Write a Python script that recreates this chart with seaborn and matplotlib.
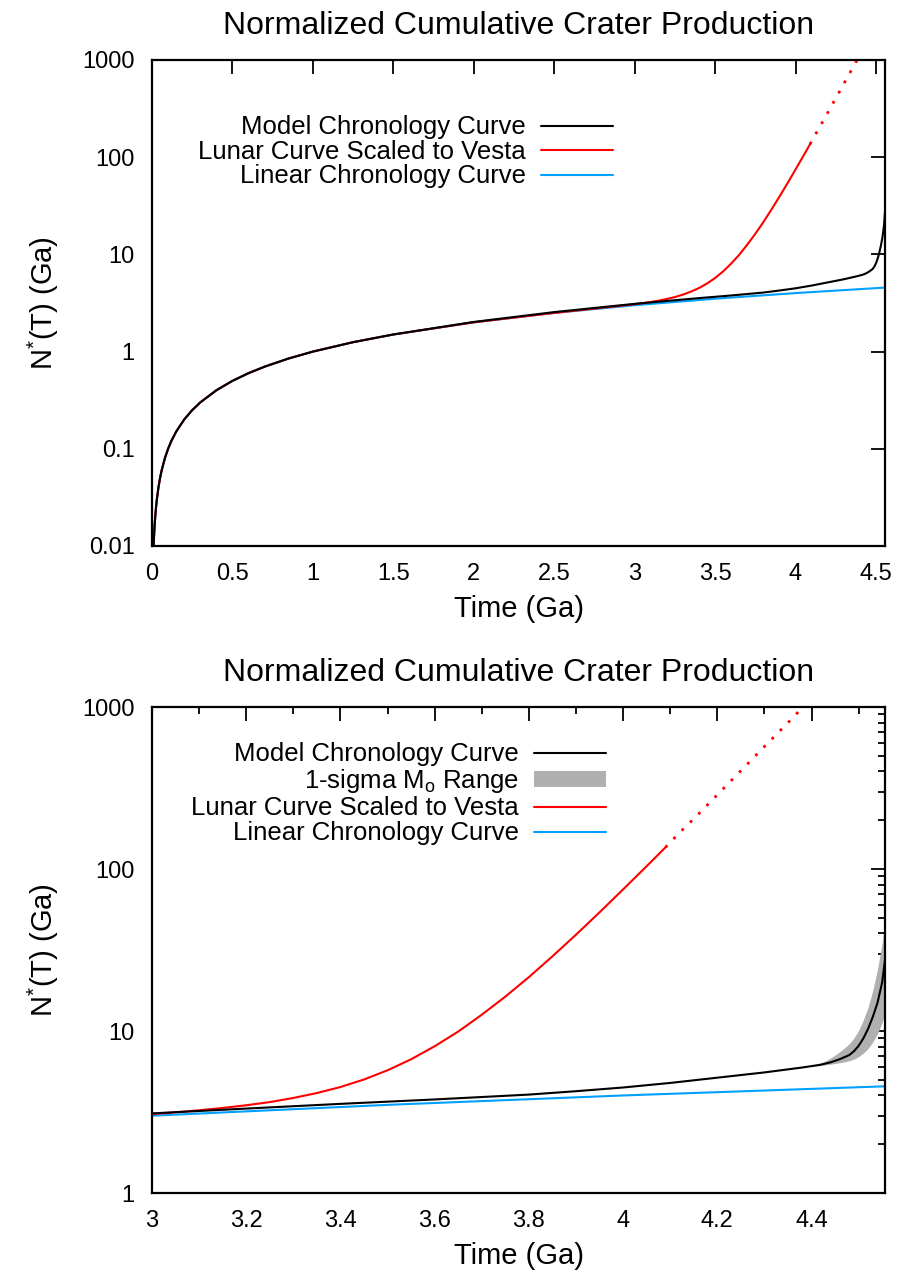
import numpy as np
import matplotlib
matplotlib.use("Agg")
import matplotlib.pyplot as plt
import seaborn as sns
from matplotlib.ticker import FixedLocator, NullLocator, LogLocator, MultipleLocator, FuncFormatter

# ---- data ----
t_model = [0.004, 0.006, 0.008, 0.01, 0.013, 0.016, 0.02, 0.025, 0.03, 0.04, 0.05, 0.06, 0.08, 0.1,
           0.12, 0.15, 0.2, 0.25, 0.3, 0.4, 0.5, 0.6, 0.7, 0.85, 1.0, 1.25, 1.5, 2.0, 2.5, 3.0,
           3.2, 3.4, 3.6, 3.8, 3.9, 4.0, 4.1, 4.2, 4.3, 4.38, 4.40, 4.42, 4.44, 4.46, 4.48, 4.49,
           4.50, 4.51, 4.52, 4.53, 4.54, 4.55, 4.556]
n_model = [0.004, 0.006, 0.008, 0.01, 0.013, 0.016, 0.02, 0.025, 0.03, 0.04, 0.05, 0.06, 0.08, 0.1,
           0.12, 0.15, 0.2, 0.25, 0.3, 0.4, 0.5, 0.6, 0.7, 0.85, 1.0, 1.25, 1.5, 2.02, 2.55, 3.10,
           3.32, 3.55, 3.78, 4.05, 4.25, 4.48, 4.78, 5.15, 5.55, 5.95, 6.07, 6.2, 6.4, 6.7, 7.1, 7.5,
           8.1, 9.0, 10.3, 12.2, 14.9, 20.0, 27.5]

t_lunar = [0.004, 0.006, 0.008, 0.01, 0.013, 0.016, 0.02, 0.025, 0.03, 0.04, 0.05, 0.06, 0.08, 0.1,
           0.12, 0.15, 0.2, 0.25, 0.3, 0.4, 0.5, 0.6, 0.7, 0.85, 1.0, 1.25, 1.5, 2.0, 2.5, 3.0,
           3.05, 3.1, 3.15, 3.2, 3.25, 3.3, 3.35, 3.4, 3.45, 3.5, 3.55, 3.6, 3.65, 3.7, 3.75, 3.8,
           3.85, 3.9, 3.95, 4.0, 4.05, 4.09]
n_lunar = [0.004, 0.006, 0.008, 0.01, 0.013, 0.016, 0.02, 0.025, 0.03, 0.04, 0.05, 0.06, 0.08, 0.1,
           0.12, 0.15, 0.2, 0.25, 0.3, 0.4, 0.5, 0.6, 0.7, 0.85, 1.0, 1.25, 1.5, 2.0, 2.5, 3.07,
           3.15, 3.24, 3.35, 3.48, 3.64, 3.86, 4.14, 4.51, 5.02, 5.72, 6.69, 8.05, 9.92, 12.6, 16.3, 21.5,
           28.9, 39.3, 54.0, 74.8, 104.0, 136.0]

t_lunar_extrap = [4.09, 4.12, 4.15, 4.2, 4.25, 4.3, 4.35, 4.4, 4.45]
n_lunar_extrap = [136.0, 168.0, 204.0, 287.0, 404.0, 570.0, 800.0, 1135.0, 1600.0]

t_linear = [0.004, 0.006, 0.008, 0.01, 0.013, 0.016, 0.02, 0.025, 0.03, 0.04, 0.05, 0.06, 0.08,
            0.1, 0.12, 0.15, 0.2, 0.25, 0.3, 0.4, 0.5, 0.6, 0.7, 0.85, 1.0, 1.25, 1.5, 2.0, 2.5,
            3.0, 3.5, 4.0, 4.556]
n_linear = [0.004, 0.006, 0.008, 0.01, 0.013, 0.016, 0.02, 0.025, 0.03, 0.04, 0.05, 0.06, 0.08,
            0.1, 0.12, 0.15, 0.2, 0.25, 0.3, 0.4, 0.5, 0.6, 0.7, 0.85, 1.0, 1.25, 1.5, 2.0, 2.5,
            3.0, 3.5, 4.0, 4.556]

t_band = [4.40, 4.41, 4.42, 4.43, 4.44, 4.45, 4.46, 4.47, 4.48, 4.49, 4.50, 4.51, 4.52, 4.53,
          4.54, 4.55, 4.556]
n_band_lo = [6.03, 6.08, 6.12, 6.18, 6.24, 6.3, 6.37, 6.45, 6.55, 6.7, 6.95, 7.3, 7.8, 8.55,
             9.6, 11.3, 13.0]
n_band_hi = [6.1, 6.2, 6.35, 6.55, 6.8, 7.1, 7.45, 7.85, 8.35, 9.05, 10.1, 11.7, 14.0, 17.8,
             24.0, 35.0, 48.0]

title = "Normalized Cumulative Crater Production"
xlabel = "Time (Ga)"
ylabel = r"N$^{*}$(T) (Ga)"
lab_model = "Model Chronology Curve"
lab_band = r"1-sigma M$_{\mathrm{o}}$ Range"
lab_lunar = "Lunar Curve Scaled to Vesta"
lab_linear = "Linear Chronology Curve"

top_xticks = [0, 0.5, 1, 1.5, 2, 2.5, 3, 3.5, 4, 4.5]
top_yticks = [0.01, 0.1, 1, 10, 100, 1000]
bot_xticks = [3, 3.2, 3.4, 3.6, 3.8, 4, 4.2, 4.4]
bot_yticks = [1, 10, 100, 1000]

# ---- style ----
sns.set_style("white")
plt.rcParams["font.family"] = ["Liberation Sans", "DejaVu Sans"]
plt.rcParams["mathtext.fontset"] = "custom"
plt.rcParams["mathtext.rm"] = "Liberation Sans"
plt.rcParams["mathtext.it"] = "Liberation Sans"
plt.rcParams["mathtext.default"] = "regular"
plt.rcParams["text.color"] = "black"
plt.rcParams["axes.labelcolor"] = "black"
plt.rcParams["xtick.color"] = "black"
plt.rcParams["ytick.color"] = "black"

W, H = 901, 1274
fig = plt.figure(figsize=(W / 100, H / 100), dpi=100)

def ax_rect(l, t, r, b):
    return [l / W, 1 - b / H, (r - l) / W, (b - t) / H]

ax1 = fig.add_axes(ax_rect(152, 60, 885, 546))
ax2 = fig.add_axes(ax_rect(152, 707, 885, 1193))

RED = "#ff0000"
BLUE = "#00a0ff"
BLACK = "#000000"
GREY = "#b0b0b0"
LW = 1.5

def fmt(v, pos):
    return "%g" % v

for ax, xlo, band in [(ax1, 0.0, False), (ax2, 3.0, True)]:
    ax.set_yscale("log")
    sns.lineplot(x=t_linear, y=n_linear, ax=ax, color=BLUE, lw=LW, label=lab_linear,
                 estimator=None, sort=False)
    sns.lineplot(x=t_lunar, y=n_lunar, ax=ax, color=RED, lw=LW, label=lab_lunar,
                 estimator=None, sort=False)
    sns.lineplot(x=t_lunar_extrap, y=n_lunar_extrap, ax=ax, color=RED, lw=2.0,
                 linestyle=(0, (1, 3.2)), estimator=None, sort=False)
    if band:
        ax.fill_between(t_band, n_band_lo, n_band_hi, color=GREY, lw=0, label=lab_band)
    sns.lineplot(x=t_model, y=n_model, ax=ax, color=BLACK, lw=LW, label=lab_model,
                 estimator=None, sort=False)
    ax.set_xlim(xlo, 4.556)
    ax.set_title(title, fontsize=23, pad=19)
    ax.set_xlabel(xlabel, fontsize=21, labelpad=7)
    ax.set_ylabel(ylabel, fontsize=21, labelpad=15)
    for sp in ax.spines.values():
        sp.set_linewidth(1.6)
        sp.set_color("black")
        sp.set_visible(True)
    ax.tick_params(which="both", direction="in", top=True, right=True, labelsize=17, width=1.3,
                   colors="black")
    ax.tick_params(which="major", length=10, pad=12.5)
    ax.tick_params(which="minor", length=5)

    handles, labels = ax.get_legend_handles_labels()
    order = [lab_model, lab_band, lab_lunar, lab_linear]
    hl = [(handles[labels.index(o)], o) for o in order if o in labels]
    leg_kw = dict(frameon=False, markerfirst=False, fontsize=18.5, handlelength=2.8,
                  handletextpad=0.6, borderpad=0, borderaxespad=0,
                  labelspacing=(0.04 if band else 0.02),
                  handleheight=0.55, loc="upper right", bbox_transform=fig.transFigure)
    if band:
        anchor = (606 / W, 1 - 742 / H)
    else:
        anchor = (613 / W, 1 - 115 / H)
    ax.legend([h for h, _ in hl], [l for _, l in hl], bbox_to_anchor=anchor, **leg_kw)

ax1.set_ylim(0.01, 1000)
ax1.yaxis.set_major_locator(FixedLocator(top_yticks))
ax1.yaxis.set_minor_locator(NullLocator())
ax1.xaxis.set_major_locator(FixedLocator(top_xticks))
ax1.xaxis.set_minor_locator(NullLocator())
ax1.yaxis.set_major_formatter(FuncFormatter(fmt))
ax1.xaxis.set_major_formatter(FuncFormatter(fmt))

ax2.set_ylim(1, 1000)
ax2.yaxis.set_major_locator(FixedLocator(bot_yticks))
ax2.yaxis.set_minor_locator(LogLocator(base=10, subs=np.arange(2, 10)))
ax2.xaxis.set_major_locator(FixedLocator(bot_xticks))
ax2.xaxis.set_minor_locator(MultipleLocator(0.1))
ax2.yaxis.set_major_formatter(FuncFormatter(fmt))
ax2.yaxis.set_minor_formatter(FuncFormatter(lambda v, p: ""))
ax2.xaxis.set_major_formatter(FuncFormatter(fmt))

fig.savefig("out.png", dpi=100, facecolor="white")
